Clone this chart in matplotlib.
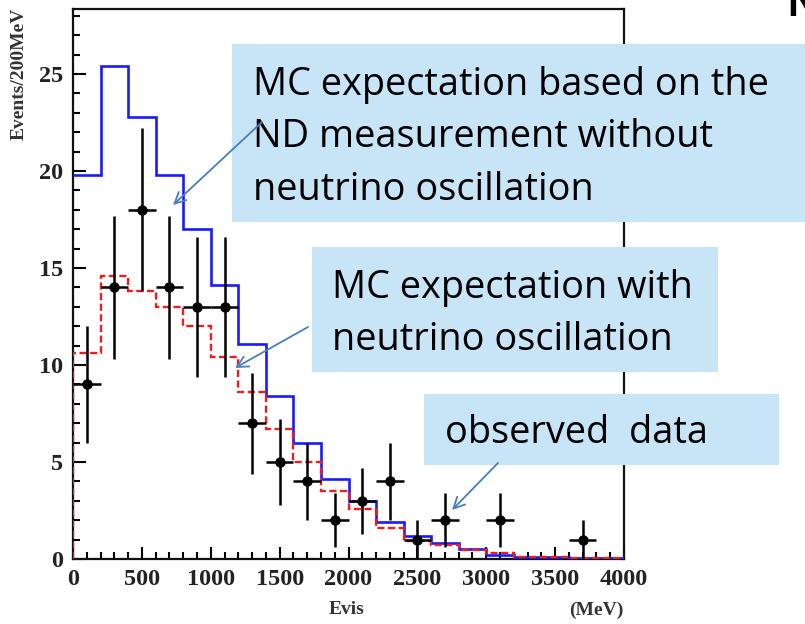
import numpy as np
import matplotlib
matplotlib.use("Agg")
import matplotlib.pyplot as plt
from matplotlib.patches import Rectangle, FancyArrowPatch
from matplotlib.ticker import MultipleLocator

# ---------------- data ----------------
bin_edges = np.arange(0, 4001, 200)
mc_no_osc = [19.8, 25.4, 22.8, 19.8, 17.0, 14.1, 11.1, 8.4, 6.0, 4.1,
             3.0, 1.9, 1.2, 0.8, 0.5, 0.22, 0.12, 0.1, 0.05, 0.03]
mc_osc = [10.6, 14.6, 13.8, 13.0, 12.0, 10.4, 8.6, 6.7, 5.0, 3.5,
          2.6, 1.6, 0.95, 0.7, 0.45, 0.3, 0.12, 0.1, 0.05, 0.04]
data_x = [100, 300, 500, 700, 900, 1100, 1300, 1500, 1700, 1900,
          2100, 2300, 2500, 2700, 3100, 3700]
data_y = [9, 14, 18, 14, 13, 13, 7, 5, 4, 2, 3, 4, 1, 2, 2, 1]
data_err = [3.0, 3.7, 4.2, 3.7, 3.6, 3.6, 2.6, 2.2, 2.0, 1.4,
            1.7, 2.0, 1.0, 1.4, 1.4, 1.0]
data_xerr = 100

label_no_osc = ["MC expectation based on the", "ND measurement without",
                "neutrino oscillation"]
label_osc = ["MC expectation with", "neutrino oscillation"]
label_data = ["observed  data"]

# ---------------- figure ----------------
W, H = 805, 624
fig = plt.figure(figsize=(W / 100, H / 100), dpi=100)
fig.patch.set_facecolor("white")

def fx(px):
    return px / W

def fy(py):
    return 1 - py / H

ax_l, ax_r, ax_t, ax_b = 73, 624, 9, 559
ax = fig.add_axes([fx(ax_l), fy(ax_b), fx(ax_r - ax_l), (ax_b - ax_t) / H])

ax.stairs(mc_no_osc, bin_edges, baseline=None, color="#1a1aff", lw=1.9, zorder=3)
ax.stairs(mc_osc, bin_edges, baseline=0, color="#ee1c1c", lw=1.7,
          linestyle=(0, (3, 1.5)), zorder=4)
ax.errorbar(data_x, data_y, yerr=data_err, xerr=data_xerr, fmt="o", color="black",
            markersize=6.5, elinewidth=1.8, capsize=0, zorder=5)

ax.set_xlim(0, 4000)
ax.set_ylim(0, 28.35)
ax.xaxis.set_major_locator(MultipleLocator(500))
ax.xaxis.set_minor_locator(MultipleLocator(100))
ax.yaxis.set_major_locator(MultipleLocator(5))
ax.yaxis.set_minor_locator(MultipleLocator(1))
ax.tick_params(which="both", direction="in", top=False, right=False, colors="black",
               width=1.5)
ax.tick_params(which="major", length=9, pad=7)
ax.tick_params(which="minor", length=5)
for sp in ax.spines.values():
    sp.set_linewidth(1.6)
    sp.set_color("#111111")

for lab in ax.get_xticklabels() + ax.get_yticklabels():
    lab.set_fontfamily("Liberation Serif")
    lab.set_fontweight("bold")
    lab.set_fontsize(17.5)
    lab.set_color("#222222")

serif = dict(family="Liberation Serif", weight="bold", color="#333333")
fig.text(fx(19), fy(8), "Events/200MeV", rotation=90, ha="center", va="top",
         fontsize=14, **serif)
fig.text(fx(347), fy(610), "Evis", ha="center", va="center", fontsize=14, **serif)
fig.text(fx(596), fy(610), "(MeV)", ha="center", va="center", fontsize=14, **serif)

# partially cut letter at the top right
fig.text(fx(786), fy(16), "N", ha="left", va="baseline", fontsize=30,
         family="Open Sans", weight="bold", color="black")

# ---------------- annotation boxes ----------------
box_color = "#c8e4f7"
arrow_color = "#4a7ebb"
txt = dict(family="Open Sans", color="black", ha="left", va="baseline", fontsize=27.3,
           zorder=6)

def box(x0, y0, x1, y1):
    fig.patches.append(Rectangle((fx(x0), fy(y1)), fx(x1 - x0), (y1 - y0) / H,
                                 transform=fig.transFigure, facecolor=box_color,
                                 edgecolor="none", zorder=4))

box(232, 44, 806, 222)
for line, base in zip(label_no_osc, [95, 147, 200]):
    fig.text(fx(253), fy(base), line, **txt)

box(312, 247, 718, 372)
for line, base in zip(label_osc, [298, 350]):
    fig.text(fx(332), fy(base), line, **txt)

box(424, 394, 779, 465)
for line, base in zip(label_data, [443]):
    fig.text(fx(445), fy(base), line, **txt)

def arrow(p0, p1):
    fig.patches.append(FancyArrowPatch((fx(p0[0]), fy(p0[1])), (fx(p1[0]), fy(p1[1])),
                                       transform=fig.transFigure,
                                       arrowstyle="->,head_length=8,head_width=4",
                                       color=arrow_color, lw=1.3, zorder=7,
                                       shrinkA=0, shrinkB=0))

arrow((262, 122), (173, 205))
arrow((308, 327), (235, 368))
arrow((498, 463), (452, 510))

fig.savefig("out.png", dpi=100)
